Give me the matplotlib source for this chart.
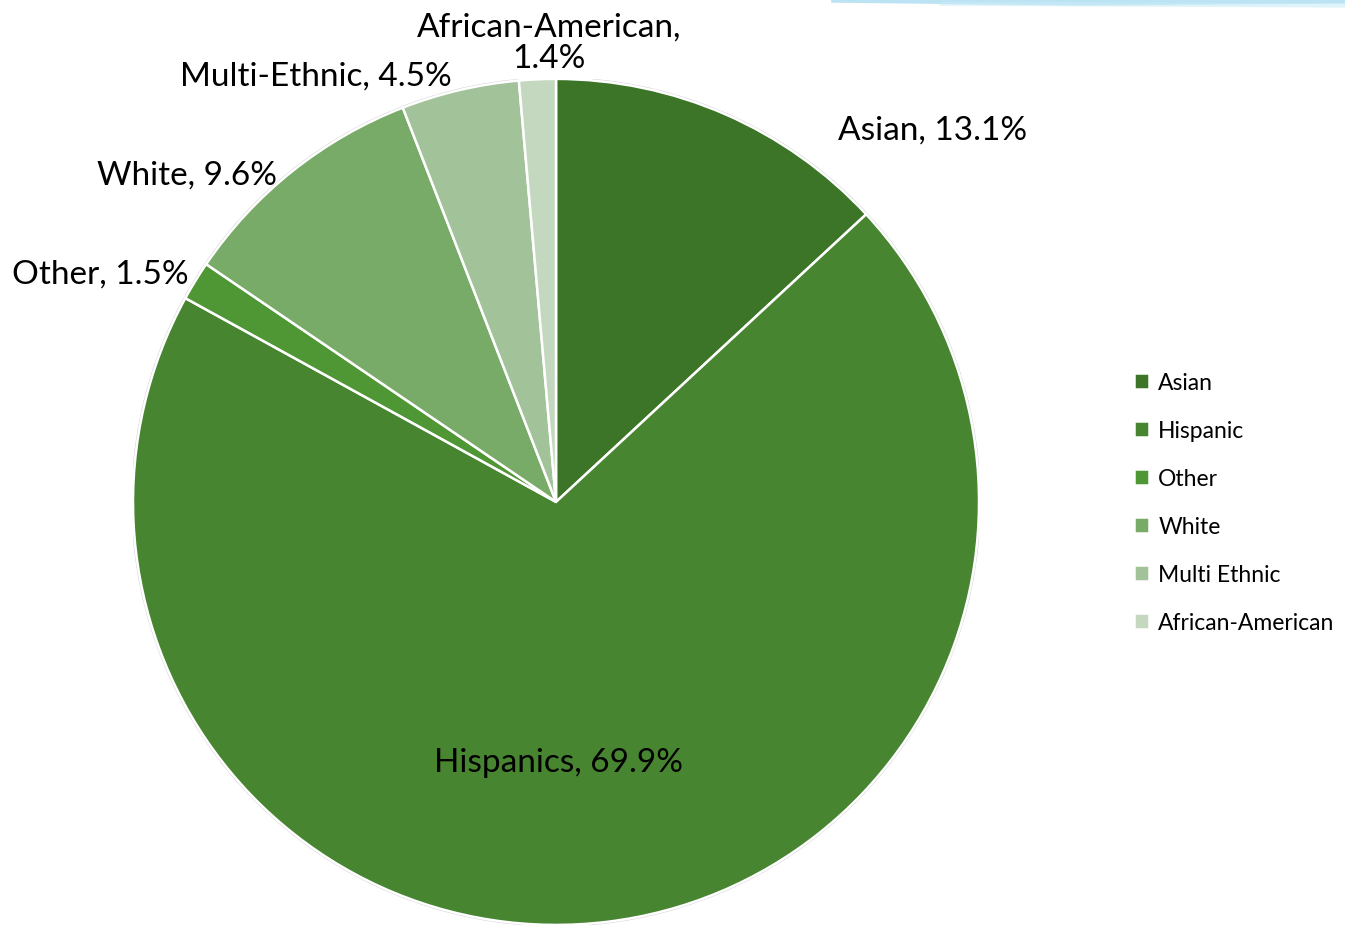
import matplotlib.pyplot as plt
from matplotlib.lines import Line2D

groups = ['Asian', 'Hispanic', 'Other', 'White', 'Multi Ethnic', 'African-American']
shares = [13.1, 69.9, 1.5, 9.6, 4.5, 1.4]
slice_labels = ['Asian, 13.1%', 'Hispanics, 69.9%', 'Other, 1.5%', 'White, 9.6%',
                'Multi-Ethnic, 4.5%', 'African-American,\n1.4%']
colors = ['#3d7528', '#488531', '#4f9635', '#78aa68', '#a2c29a', '#c4d8c0']

# where each slice label sits (pie units, centre at 0,0, radius 1)
label_pos = [(0.89, 0.88), (0.005, -0.615), (-1.078, 0.539), (-0.872, 0.773),
             (-0.567, 1.007), (-0.017, 1.087)]

plt.rcParams['font.family'] = ['Lato', 'DejaVu Sans']

fig = plt.figure(figsize=(13.45, 9.29), dpi=100)
ax = fig.add_axes([0.0989, 0.0033, 0.629, 0.9107])

wedges, _ = ax.pie(shares, colors=colors, startangle=90, counterclock=False,
                   wedgeprops=dict(edgecolor='white', linewidth=1.8))
# faint grey rim round the pie
ax.add_patch(plt.Circle((0, 0), 1.002, fill=False, edgecolor='#d0d0d0', linewidth=1.2, zorder=0))

for txt, (x, y) in zip(slice_labels, label_pos):
    ax.text(x, y, txt, ha='center', va='center', fontsize=24, color='black',
            linespacing=1.05, clip_on=False)

ax.set_xlim(-1, 1)
ax.set_ylim(-1, 1)
ax.set_aspect('equal')
ax.axis('off')

fig.legend(wedges, groups, loc='center left', bbox_to_anchor=(0.828, 0.458),
           frameon=False, fontsize=16.5, handlelength=0.65, handleheight=0.65,
           handletextpad=0.4, labelspacing=1.18)

# light blue swoosh along the top edge
fig.add_artist(Line2D([0.62, 0.8, 1.0], [0.999, 0.996, 0.998], transform=fig.transFigure,
                      color='#9fd8ee', linewidth=4, alpha=0.7))
fig.add_artist(Line2D([0.7, 1.0], [0.995, 0.993], transform=fig.transFigure,
                      color='#c9ebf7', linewidth=3, alpha=0.6))

fig.savefig('out.png', dpi=100, facecolor='white')
